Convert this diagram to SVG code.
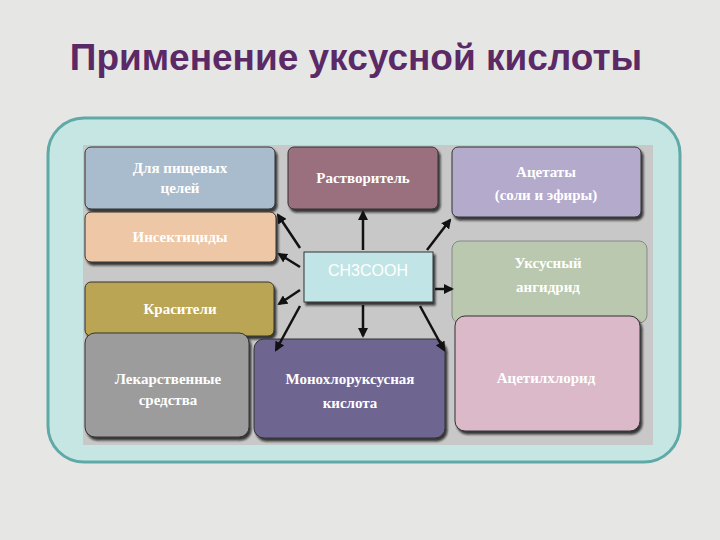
<svg xmlns="http://www.w3.org/2000/svg" width="720" height="540" viewBox="0 0 720 540">
<defs>
<style>
.t{font-family:"Liberation Serif",serif;font-size:15px;fill:#fff;text-anchor:middle;font-weight:bold}
.c{stroke:#111;stroke-width:2.5;fill:none;marker-end:url(#a)}
.b{stroke:#333;stroke-width:1;filter:url(#s)}
</style>
<marker id="a" viewBox="0 0 10 10" refX="8" refY="5" markerWidth="4" markerHeight="4" orient="auto"><path d="M0,0L10,5L0,10z" fill="#111"/></marker>
<filter id="s" x="-5%" y="-5%" width="115%" height="120%"><feDropShadow dx="2" dy="3" stdDeviation="1" flood-color="#111" flood-opacity="0.8"/></filter>
</defs>
<rect width="720" height="540" fill="#e6e6e4"/>
<text x="356" y="70" font-family="Liberation Sans,Arial,sans-serif" font-size="37" font-weight="bold" fill="#5b2a66" text-anchor="middle">Применение уксусной кислоты</text>
<rect x="48" y="118" width="632" height="344" rx="36" fill="#c6e6e4" stroke="#5fa9a6" stroke-width="3"/>
<rect x="83" y="145" width="570" height="300" fill="#c8c8c8"/>
<g id="n1"><rect class="b" x="85" y="147" width="190" height="62" rx="6" fill="#a9bccd"/><text class="t" x="180" y="173">Для пищевых</text><text class="t" x="180" y="193">целей</text></g>
<g id="n2"><rect class="b" x="288" y="147" width="150" height="62" rx="6" fill="#9b6f7e"/><text class="t" x="363" y="183">Растворитель</text></g>
<g id="n3"><rect class="b" x="452" y="147" width="189" height="70" rx="6" fill="#b4aacb"/><text class="t" x="546" y="177">Ацетаты</text><text class="t" x="546" y="200">(соли и эфиры)</text></g>
<g id="n4"><rect class="b" x="85" y="212" width="191" height="50" rx="6" fill="#eec7a6"/><text class="t" x="180" y="242">Инсектициды</text></g>
<g id="n5"><rect class="b" x="304" y="252" width="129" height="50" fill="#c1e5e6"/><text x="368" y="276" font-family="Liberation Sans,Arial,sans-serif" font-size="16" fill="#fff" text-anchor="middle">CH3COOH</text></g>
<g id="n6"><rect x="452" y="241" width="195" height="82" rx="8" fill="#b9c8ae" stroke="#888"/><text class="t" x="548" y="268">Уксусный</text><text class="t" x="548" y="292">ангидрид</text></g>
<g id="n7"><rect class="b" x="85" y="282" width="189" height="54" rx="6" fill="#b9a552"/><text class="t" x="180" y="314">Красители</text></g>
<g id="n8"><rect class="b" x="85" y="333" width="164" height="104" rx="10" fill="#9c9c9c"/><text class="t" x="168" y="384">Лекарственные</text><text class="t" x="168" y="405">средства</text></g>
<g id="n9"><rect class="b" x="254" y="339" width="191" height="99" rx="10" fill="#6e6590"/><text class="t" x="350" y="384">Монохлоруксусная</text><text class="t" x="350" y="408">кислота</text></g>
<g id="n10"><rect class="b" x="455" y="316" width="185" height="115" rx="10" fill="#dbb9c9"/><text class="t" x="546" y="383">Ацетилхлорид</text></g>
<g id="connectors">
<line class="c" x1="363" y1="250" x2="363" y2="212"/>
<line class="c" x1="300" y1="248" x2="278" y2="215"/>
<line class="c" x1="300" y1="267" x2="279" y2="254"/>
<line class="c" x1="300" y1="290" x2="279" y2="304"/>
<line class="c" x1="300" y1="306" x2="276" y2="350"/>
<line class="c" x1="363" y1="305" x2="363" y2="336"/>
<line class="c" x1="420" y1="306" x2="444" y2="350"/>
<line class="c" x1="435" y1="289" x2="452" y2="289"/>
<line class="c" x1="427" y1="250" x2="450" y2="220"/>
</g>
</svg>
